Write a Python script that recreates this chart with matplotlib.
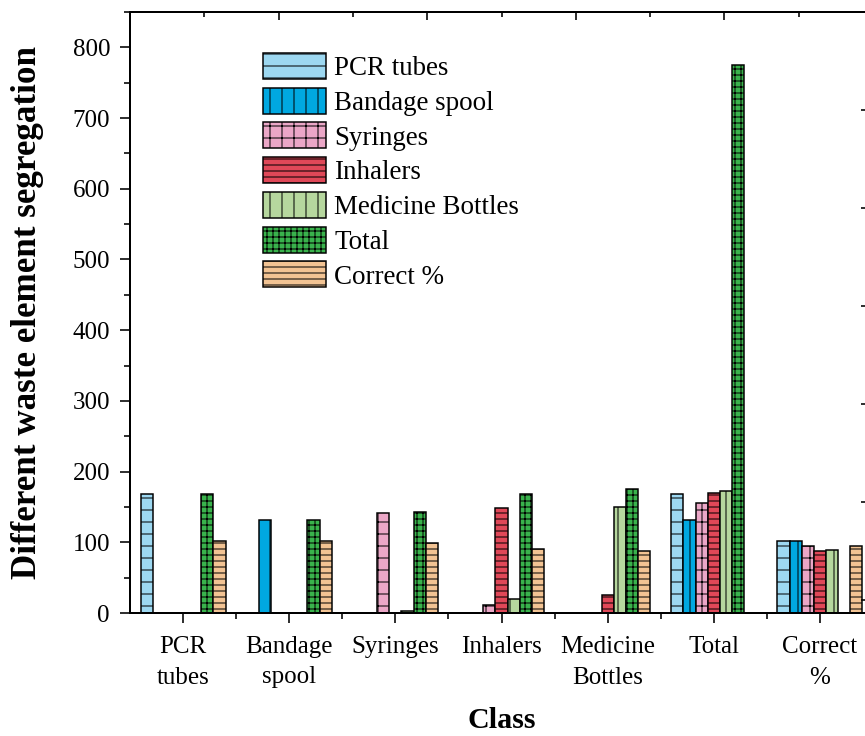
import matplotlib
matplotlib.use('Agg')
import matplotlib.pyplot as plt
import numpy as np

plt.rcParams['font.family'] = ['Liberation Serif', 'DejaVu Serif']
plt.rcParams['hatch.linewidth'] = 1.0

# data
classes = ['PCR\ntubes', 'Bandage\nspool', 'Syringes', 'Inhalers',
           'Medicine\nBottles', 'Total', 'Correct\n%']
series_names = ['PCR tubes', 'Bandage spool', 'Syringes', 'Inhalers',
                'Medicine Bottles', 'Total', 'Correct %']
pcr_tubes = [168, 0, 0, 0, 0, 168, 102]
bandage_spool = [0, 132, 0, 0, 0, 132, 102]
syringes = [0, 0, 142, 12, 0, 155, 95]
inhalers = [0, 0, 0, 148, 25, 170, 87]
medicine_bottles = [0, 0, 3, 20, 150, 172, 89]
total = [168, 132, 143, 168, 175, 775, 0]
correct_pct = [102, 102, 99, 90, 88, 0, 95]

all_series = [pcr_tubes, bandage_spool, syringes, inhalers,
              medicine_bottles, total, correct_pct]
colors = ['#9dd8f1', '#00a8e1', '#eba7c7', '#e04858',
          '#b6d79e', '#39b34c', '#f2c393']
hatches = ['-', '|', '+', '--', '|', '++', '--']

fig = plt.figure(figsize=(865 / 72, 736 / 72), dpi=72)
ax = fig.add_axes([130 / 865, 123 / 736, 743 / 865, 601 / 736])

x = np.arange(len(classes))
w = 0.8 / len(all_series)
for i, (vals, name) in enumerate(zip(all_series, series_names)):
    ax.bar(x + (i - 3) * w, vals, width=w, color=colors[i],
           edgecolor='black', linewidth=1.5, hatch=hatches[i], label=name)

ax.set_xlim(-0.5, 6.5)
ax.set_ylim(0, 850)
ax.set_xticks(x)
ax.set_xticklabels(classes, linespacing=1.5)
ax.set_xticks(x[:-1] + 0.5, minor=True)
ax.set_yticks(np.arange(0, 801, 100))
ax.set_yticks(np.arange(50, 851, 100), minor=True)
ax.tick_params(axis='both', which='major', direction='out', length=10,
               width=1.6, labelsize=25)
ax.tick_params(axis='both', which='minor', direction='out', length=6, width=1.6)
ax.tick_params(axis='x', which='major', pad=13)
ax.tick_params(axis='y', which='major', pad=10)
for s in ax.spines.values():
    s.set_linewidth(2)

ax.set_xlabel('Class', fontsize=30, fontweight='bold', labelpad=18)
ax.set_ylabel('Different waste element segregation', fontsize=35,
              fontweight='bold')
ax.yaxis.set_label_coords(-86 / 743, 0.5)

# mirrored top and right axes (inward ticks, no labels)
ax_top = ax.twiny()
ax_top.set_xlim(0, 5)
ax_top.set_xticks(np.arange(0, 6, 1))
ax_top.set_xticks(np.arange(0.5, 5, 1), minor=True)
ax_top.tick_params(axis='x', which='major', direction='in', length=8,
                   width=1.6, labeltop=False)
ax_top.tick_params(axis='x', which='minor', direction='in', length=5, width=1.6)
ax_right = ax.twinx()
ax_right.set_ylim(-0.133, 6)
ax_right.set_yticks(np.arange(0, 7, 1))
ax_right.tick_params(axis='y', direction='in', length=12, width=1.6,
                     labelright=False)
for a in (ax_top, ax_right):
    for s in a.spines.values():
        s.set_linewidth(2)

ax.legend(loc='upper left', bbox_to_anchor=(244 / 865, 1 - 34 / 736),
          bbox_transform=fig.transFigure, frameon=False, fontsize=27,
          handlelength=2.35, handleheight=1.1, labelspacing=0.245,
          handletextpad=0.3, borderpad=0.2)

fig.savefig('out.png', dpi=72)
